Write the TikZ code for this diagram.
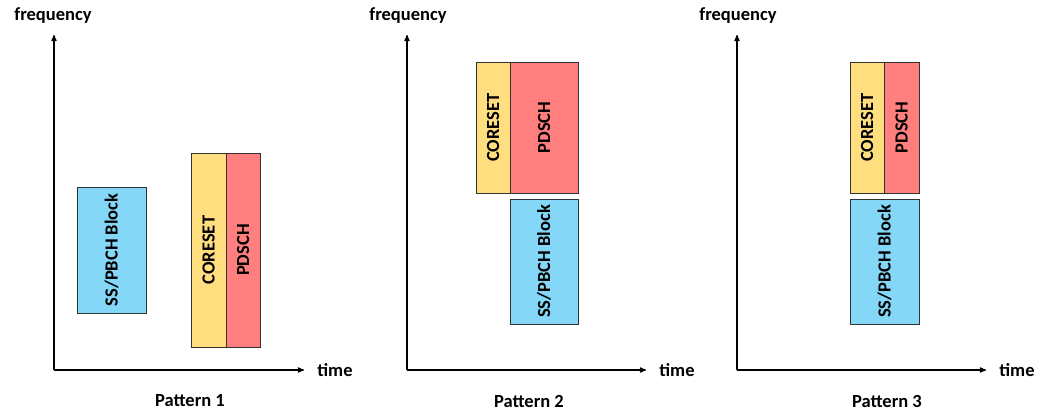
\documentclass[tikz,border=0pt]{standalone}
\usepackage{fontspec}
\setmainfont{Carlito}
\usetikzlibrary{arrows}

\definecolor{ssbblue}{HTML}{84D7F7}
\definecolor{coryellow}{HTML}{FFDE80}
\definecolor{pdred}{HTML}{FF7F7F}

\begin{document}
\begin{tikzpicture}[x=1pt, y=-1pt, font=\fontsize{18.5}{20}\selectfont\bfseries,
  sigbox/.style={draw=black!80, line width=0.9pt, rotate=90, inner sep=0pt},
  ssb/.style={sigbox, fill=ssbblue},
  coreset/.style={sigbox, fill=coryellow},
  pdsch/.style={sigbox, fill=pdred},
  axis/.style={->, line width=1.2pt}]
\tikzset{>=stealth'}
\useasboundingbox (0,0) rectangle (1037,412);

% pattern 1
\node (ssb1) [ssb, minimum width=126, minimum height=69] at (111.5,250) {SS/PBCH Block};
\node (cor1) [coreset, minimum width=194, minimum height=35] at (208.5,250) {CORESET};
\node (pd1) [pdsch, minimum width=194, minimum height=34] at (243,250) {PDSCH};

% pattern 2
\node (cor2) [coreset, minimum width=131, minimum height=34] at (493,127.5) {CORESET};
\node (pd2) [pdsch, minimum width=131, minimum height=68] at (544,127.5) {PDSCH};
\node (ssb2) [ssb, minimum width=125, minimum height=68] at (544,261.5) {SS/PBCH Block};

% pattern 3
\node (cor3) [coreset, minimum width=131, minimum height=34] at (867,127.5) {CORESET};
\node (pd3) [pdsch, minimum width=131, minimum height=35] at (901.5,127.5) {PDSCH};
\node (ssb3) [ssb, minimum width=125, minimum height=69] at (884.5,261.5) {SS/PBCH Block};

% axes
\coordinate (O1) at (54,370);  \coordinate (F1) at (54,35);  \coordinate (T1) at (304,370);
\coordinate (O2) at (407,370); \coordinate (F2) at (407,35); \coordinate (T2) at (646,370);
\coordinate (O3) at (737,370); \coordinate (F3) at (737,35); \coordinate (T3) at (986,370);
\draw [axis] (O1) -- (F1);
\draw [axis] (O1) -- (T1);
\draw [axis] (O2) -- (F2);
\draw [axis] (O2) -- (T2);
\draw [axis] (O3) -- (F3);
\draw [axis] (O3) -- (T3);

% labels
\node (freq1) at (53,16) {frequency};
\node (time1) at (335,370) {time};
\node (pat1) at (190,401) {Pattern 1};
\node (freq2) at (408,16) {frequency};
\node (time2) at (677,370) {time};
\node (pat2) at (529,401) {Pattern 2};
\node (freq3) at (738,16) {frequency};
\node (time3) at (1017,370) {time};
\node (pat3) at (887,401) {Pattern 3};
\end{tikzpicture}
\end{document}
